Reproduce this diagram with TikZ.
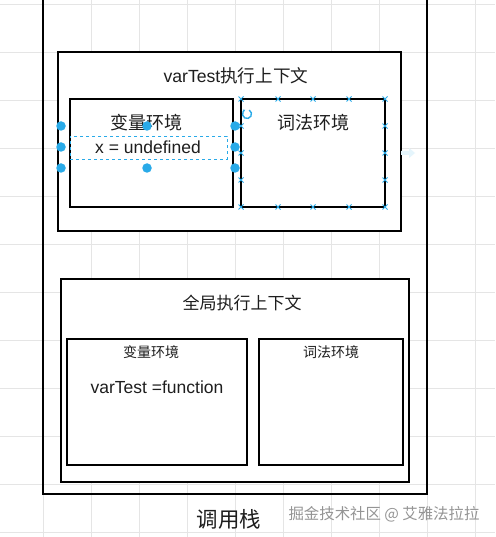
\documentclass[tikz,border=0pt]{standalone}
\usepackage{fontspec}
\setmainfont{Liberation Sans}
\newfontfamily\cjk{Noto Sans CJK SC}
\usetikzlibrary{arrows.meta}
\definecolor{gridc}{RGB}{229,229,229}
\definecolor{selblue}{RGB}{41,170,232}
\definecolor{txt}{RGB}{30,30,30}
\newcommand{\fsz}[1]{\fontsize{#1}{#1}\selectfont}
\tikzset{
  box/.style={draw=black, line width=2.7pt, fill=white, inner sep=0pt, outer sep=0pt, anchor=north west},
  lbl/.style={inner sep=0pt, text=txt},
  handle/.style={circle, fill=selblue, draw=none, minimum size=9.5pt, inner sep=0pt},
  xmark/.style={draw=selblue, line width=1pt},
}
\begin{document}
\begin{tikzpicture}[x=1pt,y=-1pt]
\useasboundingbox (0,0) rectangle (495,537);
\fill[white] (0,0) rectangle (495,537);
% grid
\foreach \gx in {-5,43,...,500} \draw[gridc, line width=0.8pt] (\gx,0) -- (\gx,537);
\foreach \gy in {4,52,...,540} \draw[gridc, line width=0.8pt] (0,\gy) -- (495,\gy);
% call stack
\node[box, fill=none, minimum width=384pt, minimum height=504pt] (stack) at (43,-10) {};
\node[lbl] (stacklbl) at (229,519) {\cjk\fsz{21.5}调用栈};
\node[lbl, text=black!42] (wm) at (384,514) {\cjk\fsz{15.4}掘金技术社区 @ 艾雅法拉拉};
% varTest context
\node[box, minimum width=343pt, minimum height=179pt] (ctx1) at (58,52) {};
\node[lbl] (ctx1t) at (236,76) {\fsz{17.6}varTest{\cjk 执行上下文}};
\node[box, minimum width=163pt, minimum height=108pt] (var1) at (70,99) {};
\node[box, minimum width=144pt, minimum height=108pt] (lex1) at (241,99) {};
\node[lbl] (var1t) at (146,123) {\cjk\fsz{18}变量环境};
\node[lbl] (lex1t) at (313,123) {\cjk\fsz{18}词法环境};
\node[draw=selblue, dashed, line width=0.8pt, inner sep=0pt, outer sep=0pt, minimum width=157pt, minimum height=23pt, anchor=north west] (xsel) at (70,136) {};
\node[lbl] (xval) at (148,147.5) {\fsz{17.5}x = undefined};
% handles of selection
\foreach \hx/\hy [count=\i] in {61/126,61/147,61/168,147/126,147/168,235/126,235/147,235/168}
  \node[handle] (h\i) at (\hx,\hy) {};
% lex1 selection marks
\foreach \mx in {241,278,313,349,385} {
  \draw[xmark] (\mx-2.5,96.5) -- (\mx+2.5,101.5) (\mx-2.5,101.5) -- (\mx+2.5,96.5);
  \draw[xmark] (\mx-2.5,204.5) -- (\mx+2.5,209.5) (\mx-2.5,209.5) -- (\mx+2.5,204.5);
}
\foreach \my in {126,153,180} {
  \draw[xmark] (238.5,\my-2.5) -- (243.5,\my+2.5) (238.5,\my+2.5) -- (243.5,\my-2.5);
  \draw[xmark] (382.5,\my-2.5) -- (387.5,\my+2.5) (382.5,\my+2.5) -- (387.5,\my-2.5);
}
\coordinate (rot) at (247,114);
\draw[selblue, line width=1.4pt, -{Stealth[length=2.5pt]}] ([shift={(60:4.5pt)}]rot) arc[start angle=60, end angle=-250, radius=4.5pt];
% faint hover arrow
\coordinate (hv) at (407,153);
\fill[selblue!12] ([shift={(-6,-2)}]hv) -- ([shift={(2,-2)}]hv) -- ([shift={(2,-5)}]hv) -- ([shift={(8,0)}]hv) -- ([shift={(2,5)}]hv) -- ([shift={(2,2)}]hv) -- ([shift={(-6,2)}]hv) -- cycle;
% global context
\node[box, minimum width=348pt, minimum height=203pt] (ctx2) at (61,279) {};
\node[lbl] (ctx2t) at (242,303) {\cjk\fsz{17}全局执行上下文};
\node[box, minimum width=180pt, minimum height=126pt] (var2) at (67,339) {};
\node[box, minimum width=144pt, minimum height=126pt] (lex2) at (259,339) {};
\node[lbl] (var2t) at (151,352) {\cjk\fsz{14}变量环境};
\node[lbl] (lex2t) at (331,352) {\cjk\fsz{14}词法环境};
\node[lbl] (fval) at (157,387.5) {\fsz{17.5}varTest =function};
\end{tikzpicture}
\end{document}
